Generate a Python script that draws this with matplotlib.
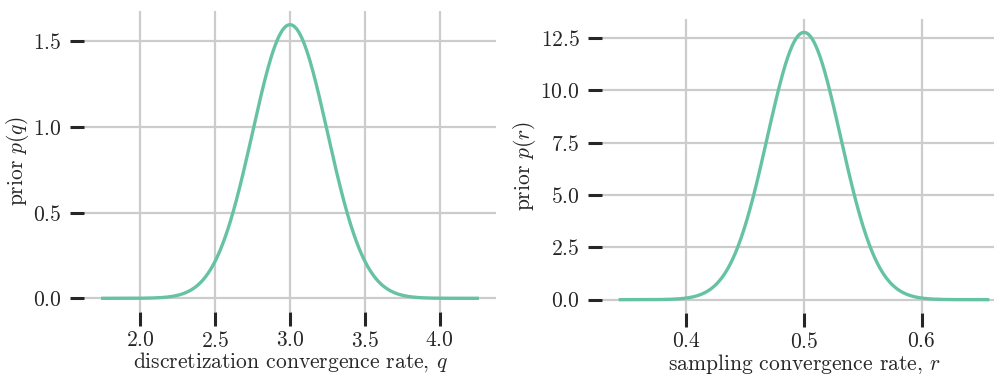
import numpy as np
import matplotlib
matplotlib.use("Agg")
import matplotlib.pyplot as plt

# Normal priors on the two convergence rates
q_mean, q_sd = 3.0, 0.25
r_mean, r_sd = 0.5, 0.03125
n_sd = 5  # plot each prior out to +/- 5 standard deviations

q_xticks = [2.0, 2.5, 3.0, 3.5, 4.0]
q_yticks = [0.0, 0.5, 1.0, 1.5]
r_xticks = [0.4, 0.5, 0.6]
r_yticks = [0.0, 2.5, 5.0, 7.5, 10.0, 12.5]

line_color = "#66c2a5"
grid_color = "#cccccc"
tick_color = "#262626"

plt.rcParams["font.family"] = "cmr10"
plt.rcParams["mathtext.fontset"] = "cm"
plt.rcParams["axes.formatter.use_mathtext"] = True
plt.rcParams["font.size"] = 15.5


def normal_pdf(x, mu, sd):
    return np.exp(-0.5 * ((x - mu) / sd) ** 2) / (sd * np.sqrt(2 * np.pi))


def draw_prior(ax, mu, sd, xticks, yticks, xlabel, ylabel):
    x = np.linspace(mu - n_sd * sd, mu + n_sd * sd, 500)
    ax.plot(x, normal_pdf(x, mu, sd), color=line_color, lw=2.4)
    ax.set_xticks(xticks)
    ax.set_yticks(yticks)
    ax.set_xlabel(xlabel, color=tick_color, labelpad=0)
    ax.set_ylabel(ylabel, color=tick_color, labelpad=1.5)
    ax.grid(True, color=grid_color, lw=1.6)
    ax.set_axisbelow(True)
    for s in ax.spines.values():
        s.set_visible(False)
    ax.tick_params(length=10, width=2.2, color=tick_color, labelcolor=tick_color,
                   pad=6, labelsize=15.5)
    ax.tick_params(axis="x", pad=3.5)


W, H = 995, 374
fig = plt.figure(figsize=(W / 100, H / 100), dpi=100)
ax1 = fig.add_axes([84 / W, (H - 312) / H, 412 / W, 301 / H])
ax2 = fig.add_axes([602 / W, (H - 313) / H, 404 / W, 294 / H])

draw_prior(ax1, q_mean, q_sd, q_xticks, q_yticks,
           r"discretization convergence rate, $q$", r"prior $p(q)$")
draw_prior(ax2, r_mean, r_sd, r_xticks, r_yticks,
           r"sampling convergence rate, $r$", r"prior $p(r)$")

fig.savefig("out.png", dpi=100)
